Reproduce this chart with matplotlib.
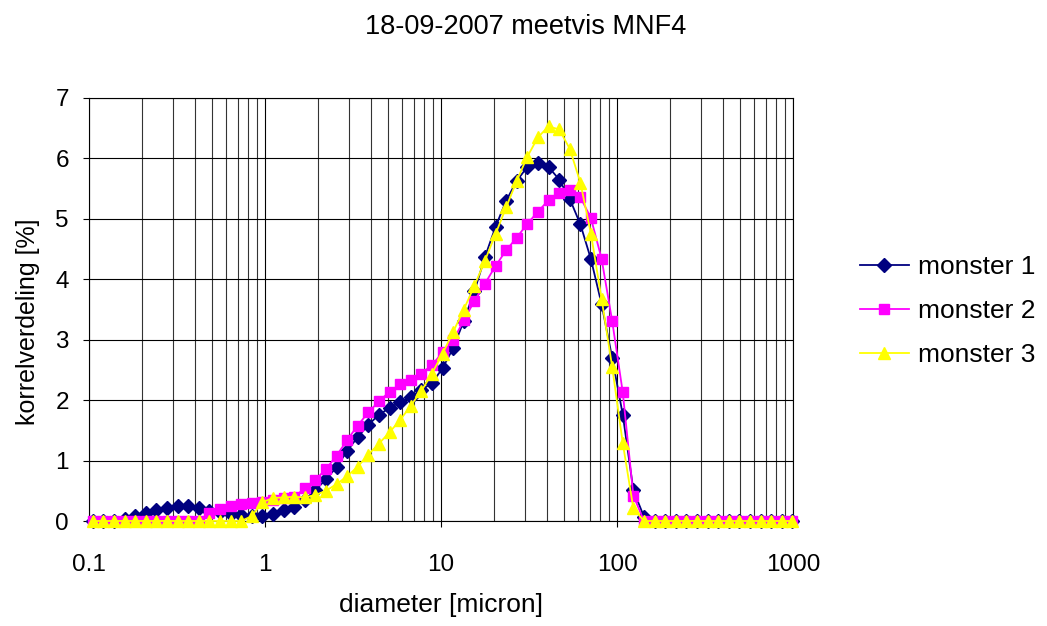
import matplotlib
matplotlib.use("Agg")
import matplotlib.pyplot as plt
from matplotlib.ticker import FixedLocator, NullFormatter

plt.rcParams['font.family'] = ['Liberation Sans', 'DejaVu Sans']

title = "18-09-2007 meetvis MNF4"
xlabel = "diameter [micron]"
ylabel = "korrelverdeling [%]"
series_names = ["monster 1", "monster 2", "monster 3"]

diameter = [0.105, 0.1206, 0.1385, 0.1591, 0.1828, 0.210, 0.2412, 0.2771, 0.3183, 0.3656,
            0.420, 0.4825, 0.5542, 0.6366, 0.7313, 0.840, 0.965, 1.108, 1.273, 1.463,
            1.680, 1.930, 2.217, 2.546, 2.925, 3.360, 3.860, 4.434, 5.093, 5.850,
            6.720, 7.719, 8.867, 10.186, 11.701, 13.44, 15.44, 17.74, 20.37, 23.40,
            26.88, 30.88, 35.47, 40.75, 46.81, 53.76, 61.76, 70.94, 81.49, 93.61,
            107.5, 123.5, 141.9, 163.0, 187.2, 215.0, 247.0, 283.8, 326.0, 374.5,
            430.1, 494.1, 567.6, 652.0, 748.9, 860.3, 988.2]

monster1 = [0, 0, 0, 0.03, 0.09, 0.14, 0.19, 0.22, 0.24, 0.24,
            0.21, 0.17, 0.15, 0.12, 0.10, 0.08, 0.08, 0.12, 0.18, 0.23,
            0.35, 0.51, 0.69, 0.89, 1.16, 1.39, 1.59, 1.76, 1.87, 1.97,
            2.05, 2.17, 2.28, 2.53, 2.86, 3.31, 3.80, 4.37, 4.87, 5.30,
            5.63, 5.86, 5.93, 5.86, 5.65, 5.33, 4.91, 4.33, 3.59, 2.70,
            1.76, 0.51, 0.07, 0, 0, 0, 0, 0, 0, 0,
            0, 0, 0, 0, 0, 0, 0]

monster2 = [0, 0, 0, 0, 0, 0, 0, 0, 0, 0,
            0, 0.14, 0.20, 0.25, 0.28, 0.29, 0.32, 0.35, 0.38, 0.40,
            0.54, 0.68, 0.86, 1.08, 1.34, 1.58, 1.80, 1.98, 2.14, 2.26,
            2.34, 2.44, 2.58, 2.79, 2.99, 3.32, 3.64, 3.93, 4.22, 4.48,
            4.69, 4.92, 5.12, 5.31, 5.42, 5.48, 5.36, 5.01, 4.34, 3.31,
            2.13, 0.42, 0, 0, 0, 0, 0, 0, 0, 0,
            0, 0, 0, 0, 0, 0, 0]

monster3 = [0, 0, 0, 0, 0, 0, 0, 0, 0, 0,
            0, 0, 0, 0, 0, 0.08, 0.31, 0.38, 0.39, 0.40,
            0.39, 0.43, 0.50, 0.61, 0.74, 0.90, 1.10, 1.28, 1.47, 1.67,
            1.91, 2.15, 2.44, 2.77, 3.13, 3.50, 3.89, 4.31, 4.75, 5.19,
            5.63, 6.03, 6.35, 6.53, 6.48, 6.16, 5.60, 4.75, 3.68, 2.55,
            1.29, 0.21, 0, 0, 0, 0, 0, 0, 0, 0,
            0, 0, 0, 0, 0, 0, 0]

xticks = [0.1, 1, 10, 100, 1000]
xticklabels = ["0.1", "1", "10", "100", "1000"]
yticks = [0, 1, 2, 3, 4, 5, 6, 7]

fig = plt.figure(figsize=(10.47, 6.26), dpi=100)
W, H = 1047, 626
ax = fig.add_axes([89 / W, 1 - 521 / H, (793.3 - 89) / W, (521 - 98) / H])

styles = [
    dict(color="#000080", marker="D", markersize=7, markerfacecolor="#000080", markeredgecolor="#000080"),
    dict(color="#FF00FF", marker="s", markersize=7, markerfacecolor="#FF00FF", markeredgecolor="#FF00FF"),
    dict(color="#FFFF00", marker="^", markersize=8.5, markerfacecolor="#FFFF00", markeredgecolor="#FFFF00"),
]
handles = []
for vals, name, st in zip([monster1, monster2, monster3], series_names, styles):
    h, = ax.plot(diameter, vals, linewidth=1.3, label=name, clip_on=False, zorder=3, **st)
    handles.append(h)

ax.set_xscale("log")
ax.set_xlim(0.1, 1000)
ax.set_ylim(0, 7)
ax.xaxis.set_major_locator(FixedLocator(xticks))
ax.set_xticklabels(xticklabels)
minor = [m * d for d in [0.1, 1, 10, 100] for m in range(2, 10)]
ax.xaxis.set_minor_locator(FixedLocator(minor))
ax.xaxis.set_minor_formatter(NullFormatter())
ax.set_yticks(yticks)
ax.set_yticklabels([str(v) for v in yticks])

ax.grid(True, which="major", axis="both", color="black", linewidth=0.8, zorder=0)
ax.grid(True, which="minor", axis="x", color="#333333", linewidth=0.8, zorder=0)
ax.set_axisbelow(True)
for s in ax.spines.values():
    s.set_color("black")
    s.set_linewidth(0.8)

ax.tick_params(axis="x", which="major", direction="out", length=4.5, width=0.8, pad=19, labelsize=17.5)
ax.tick_params(axis="x", which="minor", length=0)
ax.tick_params(axis="y", which="major", direction="out", length=4.5, width=0.8, pad=10, labelsize=17.5)

fig.text(526 / W, 1 - 33.5 / H, title, ha="center", va="baseline", fontsize=19.5)
fig.text(441 / W, 1 - 605 / H, xlabel, ha="center", va="center", fontsize=19)
fig.text(28 / W, 1 - 322 / H, ylabel, ha="center", va="center", rotation=90, fontsize=18)

fig.legend(handles=handles, labels=series_names, loc="center left",
           bbox_to_anchor=(860 / W, 1 - 311 / H), frameon=False, fontsize=19,
           handlelength=1.85, handletextpad=0.35, labelspacing=0.76,
           borderpad=0, borderaxespad=0, numpoints=1)

fig.savefig("out.png", dpi=100)
